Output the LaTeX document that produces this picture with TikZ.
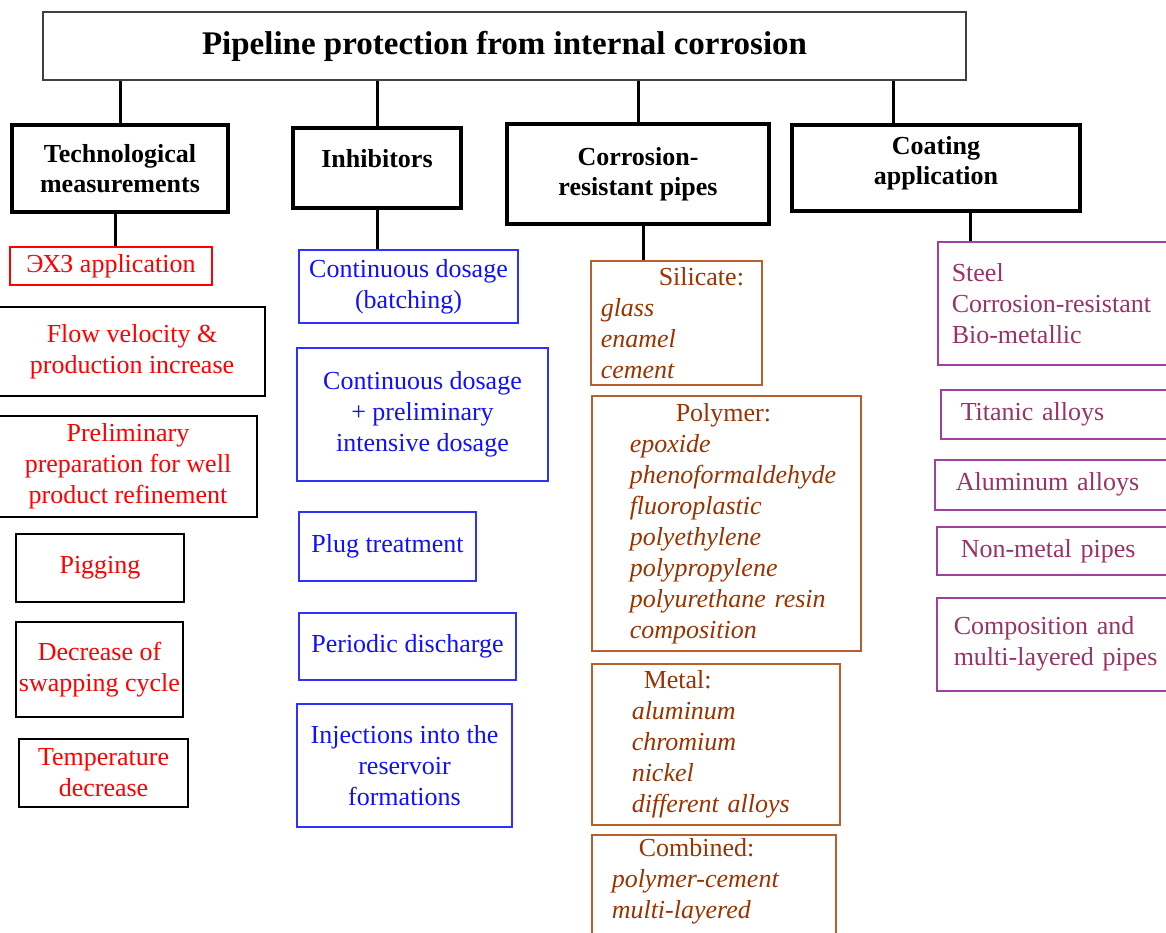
\documentclass[tikz,border=0pt]{standalone}
\usepackage{fontspec}
\setmainfont{Liberation Serif}
\usepackage{tikz}
\definecolor{techred}{HTML}{FF0000}
\definecolor{inhblue}{HTML}{1010FF}
\definecolor{blueline}{HTML}{3030FF}
\definecolor{pipebrown}{HTML}{993300}
\definecolor{brownline}{HTML}{B5602F}
\definecolor{coatpurple}{HTML}{993366}
\definecolor{purpleline}{HTML}{A040A0}

\begin{document}
\begin{tikzpicture}[
  x=1pt, y=-1pt,
  every node/.style={font=\fontsize{26}{31}\selectfont, inner sep=0pt},
  head/.style={draw=black!75, line width=1.2pt, font=\fontsize{33}{38}\selectfont\bfseries},
  cat/.style={draw, line width=4pt, align=center, font=\fontsize{26}{30}\selectfont\bfseries},
  redbox/.style={draw, line width=1.5pt, text=techred, align=center},
  bluebox/.style={draw=blueline, line width=1.5pt, text=inhblue, align=center},
  brownbox/.style={draw=brownline, line width=1.5pt, text=pipebrown, align=left, anchor=north west, inner xsep=10pt},
  purplebox/.style={draw=purpleline, line width=1.5pt, text=coatpurple, align=left, anchor=north west, text width=220pt},
  link/.style={line width=3pt},
]
\useasboundingbox (0,0) rectangle (1166,932);
\clip (0,0) rectangle (1166,932);

\node[head, minimum width=923pt, minimum height=68pt] (title) at (504.5,46) {Pipeline protection from internal corrosion};

\node[cat, minimum width=216pt, minimum height=87pt]  (tech)  at (120,168.5) {Technological\\measurements};
\node[cat, minimum width=168pt, minimum height=80pt, text depth=20pt] (inhib) at (377,168) {Inhibitors};
\node[cat, minimum width=262pt, minimum height=100pt] (corr)  at (638,174)   {Corrosion-\\resistant pipes};
\node[cat, minimum width=288pt, minimum height=86pt, text depth=16pt] (coat) at (936,168) {Coating\\application};

% technological measurements
\node[redbox, draw=techred, minimum width=202pt, minimum height=38pt] (ehz)    at (111,266)   {ЭХЗ application};
\node[redbox, minimum width=266pt, minimum height=89pt]  (flow)   at (132,351.5) {Flow velocity \&\\production  increase};
\node[redbox, minimum width=258pt, minimum height=101pt] (prelim) at (128,466.5) {Preliminary\\preparation for well\\product refinement};
\node[redbox, minimum width=168pt, minimum height=68pt]  (pig)    at (100,568)   {Pigging};
\node[redbox, minimum width=167pt, minimum height=95pt]  (swap)   at (99.5,669.5) {Decrease of\\swapping cycle};
\node[redbox, minimum width=169pt, minimum height=68pt]  (temp)   at (103.5,773) {Temperature\\decrease};

% inhibitors
\node[bluebox, minimum width=219pt, minimum height=73pt]  (cont)     at (408.5,286.5) {Continuous dosage\\(batching)};
\node[bluebox, minimum width=251pt, minimum height=133pt] (contplus) at (422.5,414.5) {Continuous dosage\\+ preliminary\\intensive dosage};
\node[bluebox, minimum width=177pt, minimum height=69pt]  (plug)     at (387.5,546.5) {Plug treatment};
\node[bluebox, minimum width=217pt, minimum height=67pt]  (period)   at (407.5,646.5) {Periodic discharge};
\node[bluebox, minimum width=215pt, minimum height=123pt] (inject)   at (404.5,765.5) {Injections into the\\reservoir\\formations};

% corrosion-resistant pipes
\node[brownbox, text width=151pt, minimum height=124pt] (sil) at (590,260)
  {\hspace*{58pt}Silicate:\\\textit{glass}\\\textit{enamel}\\\textit{cement}};
\node[brownbox, text width=249pt, minimum height=255pt] (poly) at (591,395)
  {\hspace*{74pt}Polymer:\\\hspace*{28pt}\textit{epoxide}\\\hspace*{28pt}\textit{phenoformaldehyde}\\\hspace*{28pt}\textit{fluoroplastic}\\\hspace*{28pt}\textit{polyethylene}\\\hspace*{28pt}\textit{polypropylene}\\\hspace*{28pt}\textit{polyurethane resin}\\\hspace*{28pt}\textit{composition}};
\node[brownbox, text width=228pt, minimum height=161pt] (metal) at (591,663)
  {\hspace*{42pt}Metal:\\\hspace*{30pt}\textit{aluminum}\\\hspace*{30pt}\textit{chromium}\\\hspace*{30pt}\textit{nickel}\\\hspace*{30pt}\textit{different alloys}};
\node[brownbox, text width=224pt, inner ysep=4pt] (comb) at (591,834)
  {\hspace*{37pt}Combined:\\\hspace*{10pt}\textit{polymer-cement}\\\hspace*{10pt}\textit{multi-layered}\\\mbox{}\\\mbox{}};

% coating application
\node[purplebox, inner xsep=14pt, minimum height=123pt] (steel) at (937,241) {Steel\\Corrosion-resistant\\Bio-metallic};
\node[purplebox, inner xsep=20pt, minimum height=49pt]  (titan) at (940,389) {Titanic alloys};
\node[purplebox, inner xsep=21pt, minimum height=50pt]  (alum)  at (934,459) {Aluminum alloys};
\node[purplebox, inner xsep=24pt, minimum height=48pt]  (nonmet) at (936,526) {Non-metal pipes};
\node[purplebox, inner xsep=17pt, minimum height=93pt]  (compo) at (936,597) {Composition and\\multi-layered pipes};

\draw[link] (tech.north) -- (tech.north |- title.south);
\draw[link] (inhib.north) -- (inhib.north |- title.south);
\draw[link] (corr.north) -- (corr.north |- title.south);
\draw[link] ([xshift=-43pt]coat.north) -- ([xshift=-43pt]coat.north |- title.south);
\draw[link] ([xshift=-5pt]tech.south) -- ([xshift=-5pt]tech.south |- ehz.north);
\draw[link] (inhib.south) -- (inhib.south |- cont.north);
\draw[link] ([xshift=5pt]corr.south) -- ([xshift=5pt]corr.south |- sil.north);
\draw[link] ([xshift=34pt]coat.south) -- ([xshift=34pt]coat.south |- steel.north);
\end{tikzpicture}
\end{document}
